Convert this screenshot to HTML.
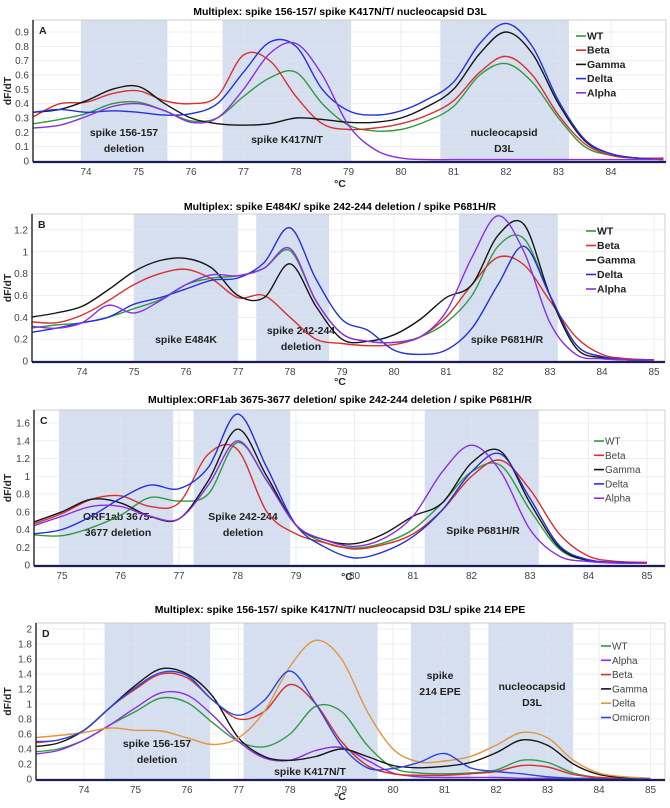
<!DOCTYPE html>
<html><head><meta charset="utf-8"><style>
html,body{margin:0;padding:0;background:#fff;}
svg{display:block;font-family:"Liberation Sans",sans-serif;}
.ttl{font-family:"Liberation Sans Narrow","Liberation Sans",sans-serif;font-weight:bold;font-size:10.5px;}
.tk{font-size:10px;fill:#444;}
.bl{font-weight:bold;font-size:10.5px;fill:#222;}
</style></head><body>
<svg id="fig" width="670" height="808" viewBox="0 0 670 808"></svg>
<script>
// ---------- DATA ----------
const tempsA = [73,73.5,74,74.5,75,75.5,76,76.5,77,77.5,78,78.5,79,79.5,80,80.5,81,81.5,82,82.5,83,83.5,84,84.5,85];
const aWT    = [0.26,0.29,0.33,0.40,0.41,0.35,0.28,0.30,0.45,0.58,0.62,0.40,0.25,0.21,0.22,0.28,0.38,0.60,0.68,0.55,0.30,0.10,0.04,0.02,0.02];
const aBeta  = [0.31,0.40,0.41,0.47,0.49,0.42,0.40,0.45,0.74,0.70,0.45,0.26,0.22,0.23,0.26,0.32,0.42,0.62,0.73,0.60,0.32,0.12,0.04,0.02,0.02];
const aGamma = [0.34,0.36,0.42,0.50,0.52,0.40,0.30,0.26,0.25,0.26,0.30,0.29,0.27,0.27,0.30,0.38,0.50,0.75,0.90,0.75,0.40,0.14,0.05,0.02,0.01];
const aDelta = [0.34,0.36,0.34,0.35,0.34,0.32,0.33,0.40,0.62,0.83,0.80,0.50,0.35,0.32,0.35,0.43,0.55,0.82,0.96,0.80,0.42,0.15,0.05,0.02,0.01];
const aAlpha = [0.23,0.25,0.31,0.38,0.40,0.35,0.27,0.30,0.50,0.75,0.82,0.60,0.25,0.08,0.02,0.01,0.01,0.01,0.01,0.01,0.01,0.01,0.01,0.01,0.01];

const tempsB = [73,73.5,74,74.5,75,75.5,76,76.5,77,77.5,78,78.5,79,79.5,80,80.5,81,81.5,82,82.5,83,83.5,84,84.5,85];
const bWT    = [0.30,0.33,0.35,0.40,0.48,0.56,0.70,0.76,0.78,0.85,1.01,0.55,0.25,0.18,0.17,0.22,0.35,0.60,1.05,1.12,0.60,0.15,0.04,0.02,0.01];
const bBeta  = [0.36,0.35,0.42,0.55,0.70,0.80,0.84,0.75,0.58,0.60,0.40,0.20,0.16,0.14,0.15,0.22,0.40,0.70,0.95,0.88,0.55,0.22,0.06,0.02,0.01];
const bGamma = [0.40,0.44,0.50,0.65,0.82,0.92,0.94,0.85,0.60,0.58,0.89,0.50,0.20,0.18,0.24,0.38,0.58,0.70,1.15,1.25,0.60,0.12,0.03,0.01,0.01];
const bDelta = [0.26,0.30,0.35,0.40,0.52,0.58,0.66,0.74,0.76,0.90,1.22,0.75,0.38,0.28,0.10,0.06,0.10,0.30,0.70,1.05,0.60,0.15,0.04,0.01,0.01];
const bAlpha = [0.32,0.30,0.35,0.51,0.44,0.55,0.70,0.79,0.78,0.85,1.03,0.55,0.25,0.18,0.17,0.22,0.45,0.95,1.33,1.00,0.35,0.06,0.02,0.01,0.01];

const tempsC = [74.5,75,75.5,76,76.5,77,77.5,78,78.5,79,79.5,80,80.5,81,81.5,82,82.5,83,83.5,84,84.5,85];
const cWT    = [0.34,0.33,0.42,0.56,0.76,0.72,0.80,1.38,0.95,0.45,0.25,0.19,0.25,0.40,0.70,1.05,1.12,0.62,0.18,0.05,0.03,0.03];
const cBeta  = [0.46,0.58,0.74,0.78,0.66,0.70,1.25,1.30,0.60,0.35,0.25,0.18,0.23,0.35,0.62,1.00,1.18,0.85,0.35,0.10,0.04,0.03];
const cGamma = [0.48,0.60,0.74,0.70,0.55,0.52,0.95,1.53,1.00,0.45,0.28,0.24,0.35,0.55,0.70,1.15,1.28,0.70,0.20,0.05,0.03,0.02];
const cDelta = [0.35,0.40,0.55,0.75,0.90,0.86,1.10,1.70,1.10,0.45,0.20,0.08,0.15,0.32,0.62,1.05,1.25,0.75,0.22,0.06,0.03,0.02];
const cAlpha = [0.44,0.55,0.66,0.66,0.55,0.52,0.90,1.40,0.95,0.45,0.28,0.21,0.30,0.55,1.05,1.35,1.05,0.40,0.10,0.04,0.02,0.02];

const tempsD = [73,73.5,74,74.5,75,75.5,76,76.5,77,77.5,78,78.5,79,79.5,80,80.5,81,81.5,82,82.5,83,83.5,84,84.5,85];
const dWT      = [0.36,0.40,0.52,0.72,0.90,1.08,1.02,0.75,0.50,0.43,0.60,0.97,0.90,0.45,0.15,0.08,0.07,0.08,0.12,0.25,0.22,0.08,0.02,0.01,0.0];
const dAlpha   = [0.33,0.38,0.52,0.72,0.95,1.15,1.12,0.85,0.50,0.28,0.25,0.38,0.42,0.25,0.08,0.03,0.02,0.02,0.02,0.01,0.01,0.01,0.01,0.0,0.0];
const dBeta    = [0.48,0.52,0.65,0.95,1.20,1.40,1.35,1.05,0.80,0.90,1.26,1.00,0.50,0.18,0.07,0.05,0.05,0.07,0.10,0.18,0.16,0.06,0.02,0.01,0.0];
const dGamma   = [0.43,0.48,0.65,0.95,1.25,1.47,1.40,1.10,0.55,0.30,0.25,0.30,0.40,0.30,0.18,0.15,0.17,0.22,0.35,0.52,0.45,0.20,0.06,0.02,0.01];
const dDelta   = [0.55,0.58,0.62,0.68,0.65,0.64,0.55,0.46,0.55,0.90,1.50,1.85,1.60,0.90,0.40,0.23,0.24,0.30,0.45,0.62,0.55,0.25,0.08,0.03,0.01];
const dOmicron = [0.50,0.52,0.65,0.95,1.22,1.42,1.38,1.05,0.85,1.05,1.44,1.00,0.45,0.15,0.14,0.22,0.34,0.15,0.10,0.07,0.03,0.01,0.0,0.0,0.0];

const yTicksA = ["0","0.1","0.2","0.3","0.4","0.5","0.6","0.7","0.8","0.9"];
const yTicksB = ["0","0.2","0.4","0.6","0.8","1","1.2"];
const yTicksC = ["0","0.2","0.4","0.6","0.8","1","1.2","1.4","1.6"];
const yTicksD = ["0","0.2","0.4","0.6","0.8","1","1.2","1.4","1.6","1.8","2"];
const xTicksA = [74,75,76,77,78,79,80,81,82,83,84];
const xTicksB = [74,75,76,77,78,79,80,81,82,83,84,85];
const xTicksC = [75,76,77,78,79,80,81,82,83,84,85];
const xTicksD = [74,75,76,77,78,79,80,81,82,83,84,85];

// ---------- RENDER ----------
const NS="http://www.w3.org/2000/svg";
const svg=document.getElementById('fig');
const COL={WT:"#2f9a3f",Beta:"#d8302e",Gamma:"#151515",Delta:"#2431d8",Alpha:"#8a2fe0",DeltaO:"#e39440",Omicron:"#2b46e0"};
function mk(tag,attrs,parent){const e=document.createElementNS(NS,tag);for(const k in attrs)e.setAttribute(k,attrs[k]);(parent||svg).appendChild(e);return e;}
function txt(s,x,y,cls,anchor,parent,extra){const t=mk('text',Object.assign({x:x,y:y,class:cls,'text-anchor':anchor||'middle'},extra||{}),parent);t.textContent=s;return t;}
function curvePath(pts){let d="M"+pts[0][0].toFixed(1)+","+pts[0][1].toFixed(1);
 for(let i=0;i<pts.length-1;i++){const p0=pts[i-1]||pts[i],p1=pts[i],p2=pts[i+1],p3=pts[i+2]||p2;
  const c1=[p1[0]+(p2[0]-p0[0])/6,p1[1]+(p2[1]-p0[1])/6],c2=[p2[0]-(p3[0]-p1[0])/6,p2[1]-(p3[1]-p1[1])/6];
  d+=" C"+c1[0].toFixed(1)+","+c1[1].toFixed(1)+" "+c2[0].toFixed(1)+","+c2[1].toFixed(1)+" "+p2[0].toFixed(1)+","+p2[1].toFixed(1);}
 return d;}

function panel(p){
 const g=mk('g',{});
 
 
 const X=t=>p.x0+(t-p.t0)*p.pxDeg, Y=v=>p.yZero-v*p.pxUnit;
 const t=txt(p.title,340,p.titleY,'ttl','middle',g);
 
 // bands
 p.bands.forEach((b,i)=>{const r=mk('rect',{x:X(b[0]),y:p.top,width:X(b[1])-X(b[0]),height:p.bottom-p.top,fill:"#d5dff0"},g);
  });
 // grid
 p.xt.forEach(v=>{mk('line',{x1:X(v),x2:X(v),y1:p.top,y2:p.bottom,stroke:"#e3e6ea","stroke-width":0.8,opacity:0.8},g);});
 p.yt.forEach((s,i)=>{const yy=Y(i*p.yStep);mk('line',{x1:p.left,x2:p.right,y1:yy,y2:yy,stroke:"#e3e6ea","stroke-width":0.8,opacity:0.8},g);
  const l=txt(s,p.left-4,yy+3.5,'tk','end',g);});
 p.xt.forEach(v=>{const l=txt(String(v),X(v),p.bottom+13,'tk','middle',g);});
 // band labels
 p.labels.forEach(L=>{L.lines.forEach((s,k)=>{const l=txt(s,L.x,L.y+k*16,'bl','middle',g);});});
 // clip
 const cp=mk('clipPath',{id:'clip'+p.id},g);mk('rect',{x:p.left,y:p.top,width:p.right-p.left,height:p.bottom-p.top},cp);
 p.series.forEach(s=>{const pts=p.temps.map((tt,i)=>[X(tt),Y(s.v[i])]);
  const path=mk('path',{d:curvePath(pts),fill:"none",stroke:s.c,"stroke-width":1.4,"clip-path":"url(#clip"+p.id+")"},g);
  });
 // frame & axes
 mk('rect',{x:p.left,y:p.top,width:p.right-p.left,height:p.bottom-p.top,fill:"none",stroke:"#c4c4c4","stroke-width":0.8},g);
 mk('line',{x1:p.left,x2:p.left,y1:p.top,y2:p.bottom,stroke:"#222","stroke-width":1.4},g);
 mk('line',{x1:p.left,x2:p.right,y1:p.bottom,y2:p.bottom,stroke:"#1c1c5a","stroke-width":2.2},g);
 const let_=txt(p.id,p.left+6,p.top+14,'bl','start',g,{'font-size':'14'});
 const xl=txt('°C',p.cX||340,p.cY,'bl','middle',g);
 const ym=(p.top+p.bottom)/2;const yl=txt('dF/dT',11,ym,'bl','middle',g,{transform:'rotate(-90 11 '+ym+')'});
 
 // legend
 p.series.forEach((s,i)=>{const ly=p.legY+i*p.legDy;
  mk('line',{x1:p.legX,x2:p.legX+10,y1:ly,y2:ly,stroke:s.c,"stroke-width":1.6},g);
  const l=txt(s.n,p.legX+11,ly+3.5,p.legBold?'bl':'tk','start',g,{'font-size':'10.5',fill:'#222'});
  });
}

panel({id:"A",title:"Multiplex: spike 156-157/ spike K417N/T/ nucleocapsid D3L",titleY:15,
 left:33,right:666,top:20,bottom:162,x0:86,t0:74,pxDeg:52.5,yZero:161,pxUnit:143.3,yStep:0.1,
 temps:tempsA,xt:xTicksA,yt:yTicksA,cY:187,
 bands:[[73.9,75.55],[76.6,79.05],[80.75,83.2]],
 labels:[{x:124,y:136,lines:["spike 156-157","deletion"]},{x:287,y:143,lines:["spike K417N/T"]},{x:504,y:136,lines:["nucleocapsid","D3L"]}],
 legX:576,legY:36,legDy:14.2,legBold:true,
 series:[{n:"WT",v:aWT,c:COL.WT},{n:"Beta",v:aBeta,c:COL.Beta},{n:"Gamma",v:aGamma,c:COL.Gamma},{n:"Delta",v:aDelta,c:COL.Delta},{n:"Alpha",v:aAlpha,c:COL.Alpha}]});

panel({id:"B",title:"Multiplex: spike E484K/ spike 242-244 deletion / spike P681H/R",titleY:210,
 left:32,right:665,top:214,bottom:362,x0:82,t0:74,pxDeg:52,yZero:361,pxUnit:109.2,yStep:0.2,
 temps:tempsB,xt:xTicksB,yt:yTicksB,cY:385,
 bands:[[75,77],[77.35,78.75],[81.25,83.15]],
 labels:[{x:186,y:343,lines:["spike E484K"]},{x:301,y:334,lines:["spike 242-244","deletion"]},{x:507,y:343,lines:["spike P681H/R"]}],
 legX:586,legY:231,legDy:14.5,legBold:true,
 series:[{n:"WT",v:bWT,c:COL.WT},{n:"Beta",v:bBeta,c:COL.Beta},{n:"Gamma",v:bGamma,c:COL.Gamma},{n:"Delta",v:bDelta,c:COL.Delta},{n:"Alpha",v:bAlpha,c:COL.Alpha}]});

panel({id:"C",title:"Multiplex:ORF1ab 3675-3677 deletion/ spike 242-244 deletion / spike P681H/R",titleY:403,
 left:34,right:665,top:410,bottom:566,x0:62,t0:75,pxDeg:58.5,yZero:565,pxUnit:88.75,yStep:0.2,
 temps:tempsC,xt:xTicksC,yt:yTicksC,cX:347,cY:580,
 bands:[[74.95,76.9],[77.25,78.9],[81.2,83.15]],
 labels:[{x:118,y:520,lines:["ORF1ab 3675-","3677 deletion"]},{x:243,y:520,lines:["Spike 242-244","deletion"]},{x:483,y:534,lines:["Spike P681H/R"]}],
 legX:594,legY:441,legDy:14.3,legBold:false,
 series:[{n:"WT",v:cWT,c:COL.WT},{n:"Beta",v:cBeta,c:COL.Beta},{n:"Gamma",v:cGamma,c:COL.Gamma},{n:"Delta",v:cDelta,c:COL.Delta},{n:"Alpha",v:cAlpha,c:COL.Alpha}]});

panel({id:"D",title:"Multiplex: spike 156-157/ spike K417N/T/ nucleocapsid D3L/ spike 214 EPE",titleY:613,
 left:36,right:665,top:623,bottom:780,x0:84,t0:74,pxDeg:51.5,yZero:779,pxUnit:75,yStep:0.2,
 temps:tempsD,xt:xTicksD,yt:yTicksD,cY:800,
 bands:[[74.4,76.45],[77.1,79.7],[80.35,81.5],[81.85,83.5]],
 labels:[{x:157,y:747,lines:["spike 156-157","deletion"]},{x:310,y:775,lines:["spike K417N/T"]},{x:440,y:679,lines:["spike","214 EPE"]},{x:532,y:690,lines:["nucleocapsid","D3L"]}],
 legX:601,legY:646,legDy:14.3,legBold:false,
 series:[{n:"WT",v:dWT,c:COL.WT},{n:"Alpha",v:dAlpha,c:COL.Alpha},{n:"Beta",v:dBeta,c:COL.Beta},{n:"Gamma",v:dGamma,c:COL.Gamma},{n:"Delta",v:dDelta,c:COL.DeltaO},{n:"Omicron",v:dOmicron,c:COL.Omicron}]});
</script>
</body></html>
